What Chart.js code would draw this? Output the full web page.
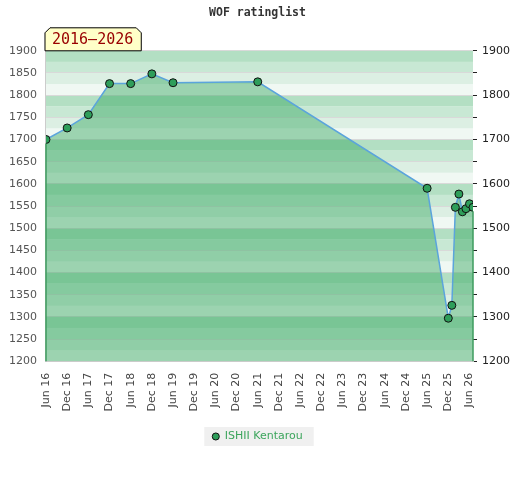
<!DOCTYPE html>
<html>
<head>
<meta charset="utf-8">
<title>WOF ratinglist</title>
<script src="https://cdn.jsdelivr.net/npm/chart.js@4.4.1/dist/chart.umd.min.js"></script>
<style>
  html, body { margin: 0; padding: 0; background: #fff; }
  #wrap { width: 520px; height: 480px; }
</style>
</head>
<body>
<div id="wrap"><canvas id="ratingChart" width="520" height="480"></canvas></div>
<script>
// rating list entries
var playerName = 'ISHII Kentarou';
var periodLabel = '2016\u20132026';
var ratingDates = ['2016-06', '2016-12', '2017-06', '2017-12', '2018-06', '2018-12', '2019-06',
                   '2021-06', '2025-06', '2025-12', '2026-01', '2026-02', '2026-03', '2026-04',
                   '2026-05', '2026-06', '2026-07'];
var ratings = [1700, 1726, 1756, 1826, 1826, 1848, 1828, 1830, 1590, 1297, 1326, 1547, 1577,
               1537, 1544, 1555, 1547];
var xTickLabels = ['Jun 16', 'Dec 16', 'Jun 17', 'Dec 17', 'Jun 18', 'Dec 18', 'Jun 19', 'Dec 19',
                   'Jun 20', 'Dec 20', 'Jun 21', 'Dec 21', 'Jun 22', 'Dec 22', 'Jun 23', 'Dec 23',
                   'Jun 24', 'Dec 24', 'Jun 25', 'Dec 25', 'Jun 26'];
var yMin = 1200, yMax = 1900, yStep = 50;

var monthNames = ['Jan', 'Feb', 'Mar', 'Apr', 'May', 'Jun', 'Jul', 'Aug', 'Sep', 'Oct', 'Nov', 'Dec'];

// months since Jan 2016
function monthIndex(s) {
  var p = s.split('-');
  return (parseInt(p[0], 10) - 2016) * 12 + parseInt(p[1], 10) - 1;
}
function labelMonth(l) {
  var p = l.split(' ');
  return (parseInt(p[1], 10) - 16) * 12 + monthNames.indexOf(p[0]);
}

var points = ratingDates.map(function (d, i) {
  return { x: monthIndex(d), y: ratings[i] };
});

var bandColors = ['#b3dfc3', '#c8e8d4', '#dcefe3', '#f0f8f3'];

// striped background behind the plot + legend box
var backdrop = {
  id: 'backdrop',
  beforeDraw: function (chart) {
    var ctx = chart.ctx, area = chart.chartArea, y = chart.scales.y;
    ctx.save();
    for (var v = yMin; v < yMax; v += 25) {
      var idx = 3 - ((v - yMin) / 25) % 4;
      var top = y.getPixelForValue(v + 25), bot = y.getPixelForValue(v);
      ctx.fillStyle = bandColors[idx];
      ctx.fillRect(area.left, top, area.right - area.left, bot - top);
    }
    var boxes = chart.legend.legendHitBoxes;
    if (boxes && boxes.length) {
      var b = boxes[0];
      ctx.fillStyle = '#f0f0f0';
      ctx.fillRect(b.left - 8, b.top - 4, b.width + 19, b.height + 8);
    }
    ctx.restore();
  }
};

// vertical edges of the area at the first and last entry
var edges = {
  id: 'edges',
  afterDatasetsDraw: function (chart) {
    var ctx = chart.ctx, area = chart.chartArea;
    var pts = chart.getDatasetMeta(0).data;
    ctx.save();
    ctx.strokeStyle = '#3e9c5f';
    ctx.lineWidth = 1.5;
    [pts[0], pts[pts.length - 1]].forEach(function (p) {
      ctx.beginPath();
      ctx.moveTo(p.x, p.y + 4);
      ctx.lineTo(p.x, area.bottom);
      ctx.stroke();
    });
    ctx.restore();
  }
};

// yellow tab with the period
var periodTab = {
  id: 'periodTab',
  afterDraw: function (chart) {
    var ctx = chart.ctx, area = chart.chartArea;
    ctx.save();
    ctx.font = '15px "DejaVu Sans Mono"';
    var w = ctx.measureText(periodLabel).width + 15;
    var x0 = area.left - 1, y1 = area.top, y0 = y1 - 23, c = 5;
    ctx.beginPath();
    ctx.moveTo(x0, y1);
    ctx.lineTo(x0, y0 + c);
    ctx.lineTo(x0 + c, y0);
    ctx.lineTo(x0 + w - c, y0);
    ctx.lineTo(x0 + w, y0 + c);
    ctx.lineTo(x0 + w, y1);
    ctx.closePath();
    ctx.fillStyle = '#ffffc8';
    ctx.fill();
    ctx.strokeStyle = '#000';
    ctx.lineWidth = 1;
    ctx.stroke();
    ctx.fillStyle = '#990000';
    ctx.textBaseline = 'middle';
    ctx.fillText(periodLabel, x0 + 7, (y0 + y1) / 2 + 1);
    ctx.restore();
  }
};

var ctx = document.getElementById('ratingChart').getContext('2d');
var chart = new Chart(ctx, {
  type: 'line',
  data: {
    datasets: [{
      label: playerName,
      data: points,
      borderColor: '#5ba4dc',
      borderWidth: 1.5,
      backgroundColor: 'rgba(47,164,91,0.44)',
      fill: 'start',
      tension: 0,
      pointRadius: 4,
      pointBackgroundColor: '#2e9e5a',
      pointBorderColor: '#111',
      pointBorderWidth: 1
    }]
  },
  options: {
    responsive: false,
    animation: false,
    layout: { padding: { left: 0, right: 5, bottom: 28, top: 0 } },
    scales: {
      x: {
        type: 'linear',
        min: monthIndex(ratingDates[0]),
        max: monthIndex(ratingDates[ratingDates.length - 1]),
        afterBuildTicks: function (scale) {
          scale.ticks = xTickLabels.map(function (l) { return { value: labelMonth(l) }; });
        },
        ticks: {
          autoSkip: false,
          minRotation: 90,
          maxRotation: 90,
          padding: 11.5,
          color: '#444',
          font: { family: 'DejaVu Sans', size: 11 },
          callback: function (value) {
            for (var i = 0; i < xTickLabels.length; i++) {
              if (labelMonth(xTickLabels[i]) === value) return xTickLabels[i];
            }
            return '';
          }
        },
        grid: { display: true, drawOnChartArea: false, drawTicks: false },
        border: { display: true, color: '#cccccc' }
      },
      y: {
        position: 'left',
        min: yMin,
        max: yMax,
        ticks: {
          stepSize: yStep,
          autoSkip: false,
          padding: 9,
          color: '#555',
          font: { family: 'DejaVu Sans', size: 11 },
          callback: function (value) { return String(value); }
        },
        grid: { color: '#d9d9d9', drawTicks: false },
        border: { display: true, color: '#cccccc' }
      },
      y2: {
        position: 'right',
        min: yMin,
        max: yMax,
        ticks: {
          stepSize: yStep,
          autoSkip: false,
          padding: 5,
          color: '#222',
          font: { family: 'DejaVu Sans', size: 11 },
          callback: function (value) { return value % 100 === 0 ? String(value) : ''; }
        },
        grid: { drawOnChartArea: false, drawTicks: true, tickLength: 4, color: '#222' },
        border: { display: false }
      }
    },
    plugins: {
      title: {
        display: true,
        text: 'WOF ratinglist',
        color: '#333',
        font: { family: 'DejaVu Sans Mono', size: 11.5, weight: 'bold' },
        padding: { top: 6, bottom: 31 }
      },
      legend: {
        position: 'bottom',
        labels: {
          usePointStyle: true,
          boxWidth: 7,
          boxHeight: 5,
          padding: 8,
          color: '#3ca55c',
          font: { family: 'DejaVu Sans', size: 11 },
          generateLabels: function (chart) {
            return [{
              text: playerName,
              fillStyle: '#2e9e5a',
              strokeStyle: '#111',
              lineWidth: 1,
              pointStyle: 'circle',
              fontColor: '#3ca55c',
              hidden: false,
              datasetIndex: 0
            }];
          }
        }
      },
      tooltip: { enabled: false }
    }
  },
  plugins: [backdrop, edges, periodTab]
});
</script>
</body>
</html>
